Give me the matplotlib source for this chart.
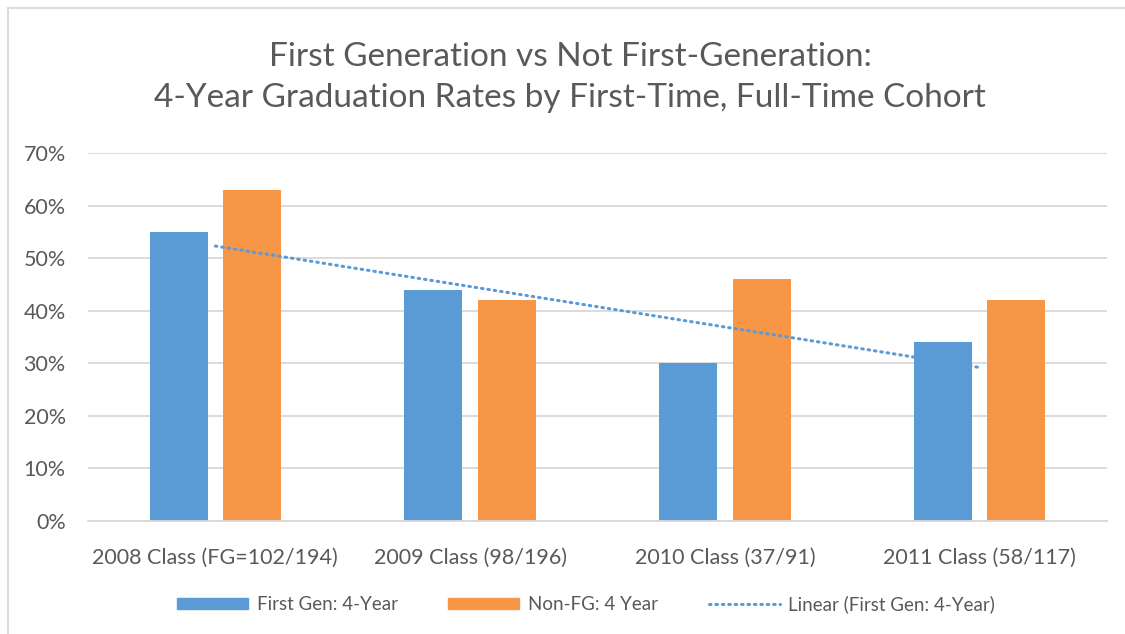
import matplotlib.pyplot as plt
import numpy as np
from matplotlib.lines import Line2D
from matplotlib.patches import Patch

# data
categories = ['2008 Class (FG=102/194)', '2009 Class (98/196)',
              '2010 Class (37/91)', '2011 Class (58/117)']
first_gen = [55, 44, 30, 34]
non_fg = [63, 42, 46, 42]
y_ticks = [0, 10, 20, 30, 40, 50, 60, 70]

blue = '#5B9BD5'
orange = '#F79646'
txt = '#595959'
grid = '#D9D9D9'

plt.rcParams['font.family'] = ['Lato', 'DejaVu Sans']

fig = plt.figure(figsize=(11.25, 6.34), dpi=100)
ax = fig.add_axes([88 / 1125, 1 - 521 / 634, (1107 - 88) / 1125, (521 - 153) / 634])

x = np.arange(len(categories))
w = 0.228
off = 0.144
ax.bar(x - off, first_gen, w, color=blue, zorder=2)
ax.bar(x + off, non_fg, w, color=orange, zorder=2)

# linear trendline of the first-gen series (Excel style)
slope, icpt = np.polyfit(x, first_gen, 1)
ax.plot(x, slope * x + icpt, color=blue, lw=2.2, linestyle=(0, (0.5, 1.6)),
        dash_capstyle='round', zorder=3)

ax.set_xlim(-0.5, len(categories) - 0.5)
ax.set_ylim(0, 70)
ax.set_yticks(y_ticks)
ax.set_yticklabels(['%d%%' % v for v in y_ticks])
ax.set_xticks(x)
ax.set_xticklabels(categories)
ax.tick_params(axis='both', length=0, labelsize=15.5, labelcolor=txt)
ax.tick_params(axis='y', pad=16)
ax.tick_params(axis='x', pad=19)
ax.yaxis.grid(True, color=grid, lw=1.3, zorder=0)
ax.set_axisbelow(True)
for s in ['top', 'right', 'left']:
    ax.spines[s].set_visible(False)
ax.spines['bottom'].set_color(grid)
ax.spines['bottom'].set_linewidth(1.3)

fig.text(570 / 1125, 1 - 57 / 634, 'First Generation vs Not First-Generation:',
         ha='center', va='center', fontsize=24, color=txt)
fig.text(570 / 1125, 1 - 98 / 634, '4-Year Graduation Rates by First-Time, Full-Time Cohort',
         ha='center', va='center', fontsize=24, color=txt)

handles = [Patch(color=blue), Patch(color=orange),
           Line2D([], [], color=blue, lw=2.2, linestyle=(0, (0.5, 1.6)), dash_capstyle='round')]
labels = ['First Gen: 4-Year', 'Non-FG: 4 Year', 'Linear (First Gen: 4-Year)']
fig.legend(handles, labels, loc='center', bbox_to_anchor=(586 / 1125, 1 - 604 / 634), ncol=3,
           frameon=False, fontsize=13.5, labelcolor=txt, handlelength=3.8, handleheight=0.5,
           columnspacing=2.7, handletextpad=0.45)

# chart area border (cropped on right and bottom)
fig.add_artist(Line2D([8 / 1125, 8 / 1125], [0, 1 - 8 / 634], color=grid, lw=1.3))
fig.add_artist(Line2D([8 / 1125, 1], [1 - 8 / 634, 1 - 8 / 634], color=grid, lw=1.3))

fig.savefig('out.png', dpi=100)
